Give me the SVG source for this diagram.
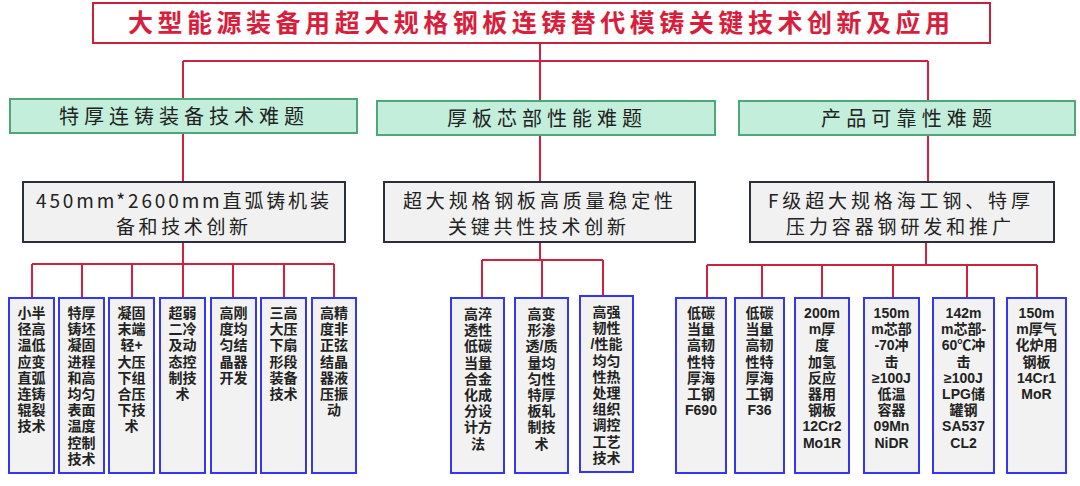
<svg xmlns="http://www.w3.org/2000/svg" width="1080" height="486" viewBox="0 0 1080 486">
<style>
.conn{stroke:#d0213f;stroke-width:2;fill:none}
.title{fill:#fff;stroke:#c8203a;stroke-width:2}
.tt{font-family:"Noto Sans CJK SC","Liberation Sans",sans-serif;font-weight:bold;font-size:25px;fill:#d81e3c}
.green{fill:#c3eedb;stroke:#4fa679;stroke-width:2}
.gt{font-family:"Noto Sans CJK SC","Liberation Sans",sans-serif;font-size:20px;fill:#222}
.gray{fill:#f1f1f1;stroke:#2b2f3a;stroke-width:2}
.yt{font-family:"Noto Sans CJK SC","Liberation Sans",sans-serif;font-size:19px;fill:#222}
.leaf{fill:#f2f2f2;stroke:#3535f5;stroke-width:2}
.lt{font-family:"Liberation Sans","Noto Sans CJK SC",sans-serif;font-weight:bold;font-size:14px;fill:#222;text-anchor:middle}
</style>
<rect width="1080" height="486" fill="#fff"/>
<g id="connectors">
<path class="conn" d="M540 43V61M183 61H928M183 61V99M540 61V101M928 61V101"/>
<path class="conn" d="M183 133V182M540 135V182M928 135V182"/>
<path class="conn" d="M183 242V264M32 264H334M32 264V298M82 264V298M132 264V298M183 264V298M233 264V298M284 264V298M334 264V298"/>
<path class="conn" d="M540 242V260M482 260H603M482 260V298M542 260V298M603 260V296"/>
<path class="conn" d="M926 242V265M707 265H1037M707 265V298M762 265V298M822 265V298M893 265V298M967 265V298M1037 265V298"/>
</g>
<g id="title"><rect class="title" x="93" y="3" width="897" height="40"/><text class="tt" x="128" y="32" textLength="822" lengthAdjust="spacing">大型能源装备用超大规格钢板连铸替代模铸关键技术创新及应用</text></g>
<g id="h1"><rect class="green" x="10" y="99" width="347" height="34"/><text class="gt" x="59" y="124" textLength="245" lengthAdjust="spacing">特厚连铸装备技术难题</text></g>
<g id="h2"><rect class="green" x="377" y="101" width="338" height="34"/><text class="gt" x="447" y="126" textLength="195" lengthAdjust="spacing">厚板芯部性能难题</text></g>
<g id="h3"><rect class="green" x="739" y="101" width="336" height="34"/><text class="gt" x="821" y="126" textLength="171" lengthAdjust="spacing">产品可靠性难题</text></g>
<g id="m1"><rect class="gray" x="23" y="182" width="322" height="60"/><text class="yt" x="36" y="208" textLength="293" lengthAdjust="spacing">450mm*2600mm直弧铸机装</text><text class="yt" x="116" y="234" textLength="132" lengthAdjust="spacing">备和技术创新</text></g>
<g id="m2"><rect class="gray" x="384" y="182" width="311" height="60"/><text class="yt" x="403" y="208" textLength="270" lengthAdjust="spacing">超大规格钢板高质量稳定性</text><text class="yt" x="448" y="234" textLength="178" lengthAdjust="spacing">关键共性技术创新</text></g>
<g id="m3"><rect class="gray" x="750" y="182" width="304" height="60"/><text class="yt" x="768" y="208" textLength="262" lengthAdjust="spacing">F级超大规格海工钢、特厚</text><text class="yt" x="786" y="234" textLength="225" lengthAdjust="spacing">压力容器钢研发和推广</text></g>

<g id="a1"><rect class="leaf" x="9" y="298" width="45" height="175"/><text class="lt" y="318"><tspan x="31.5">小半</tspan><tspan x="31.5" dy="16.2">径高</tspan><tspan x="31.5" dy="16.2">温低</tspan><tspan x="31.5" dy="16.2">应变</tspan><tspan x="31.5" dy="16.2">直弧</tspan><tspan x="31.5" dy="16.2">连铸</tspan><tspan x="31.5" dy="16.2">辊裂</tspan><tspan x="31.5" dy="16.2">技术</tspan></text></g>
<g id="a2"><rect class="leaf" x="59" y="298" width="45" height="175"/><text class="lt" y="318"><tspan x="81.5">特厚</tspan><tspan x="81.5" dy="16.2">铸坯</tspan><tspan x="81.5" dy="16.2">凝固</tspan><tspan x="81.5" dy="16.2">进程</tspan><tspan x="81.5" dy="16.2">和高</tspan><tspan x="81.5" dy="16.2">均匀</tspan><tspan x="81.5" dy="16.2">表面</tspan><tspan x="81.5" dy="16.2">温度</tspan><tspan x="81.5" dy="16.2">控制</tspan><tspan x="81.5" dy="16.2">技术</tspan></text></g>
<g id="a3"><rect class="leaf" x="109" y="298" width="45" height="175"/><text class="lt" y="318"><tspan x="131.5">凝固</tspan><tspan x="131.5" dy="16.2">末端</tspan><tspan x="131.5" dy="16.2">轻+</tspan><tspan x="131.5" dy="16.2">大压</tspan><tspan x="131.5" dy="16.2">下组</tspan><tspan x="131.5" dy="16.2">合压</tspan><tspan x="131.5" dy="16.2">下技</tspan><tspan x="131.5" dy="16.2">术</tspan></text></g>
<g id="a4"><rect class="leaf" x="160" y="298" width="45" height="175"/><text class="lt" y="318"><tspan x="182.5">超弱</tspan><tspan x="182.5" dy="16.2">二冷</tspan><tspan x="182.5" dy="16.2">及动</tspan><tspan x="182.5" dy="16.2">态控</tspan><tspan x="182.5" dy="16.2">制技</tspan><tspan x="182.5" dy="16.2">术</tspan></text></g>
<g id="a5"><rect class="leaf" x="211" y="298" width="45" height="175"/><text class="lt" y="318"><tspan x="233.5">高刚</tspan><tspan x="233.5" dy="16.2">度均</tspan><tspan x="233.5" dy="16.2">匀结</tspan><tspan x="233.5" dy="16.2">晶器</tspan><tspan x="233.5" dy="16.2">开发</tspan></text></g>
<g id="a6"><rect class="leaf" x="261" y="298" width="45" height="175"/><text class="lt" y="318"><tspan x="283.5">三高</tspan><tspan x="283.5" dy="16.2">大压</tspan><tspan x="283.5" dy="16.2">下扇</tspan><tspan x="283.5" dy="16.2">形段</tspan><tspan x="283.5" dy="16.2">装备</tspan><tspan x="283.5" dy="16.2">技术</tspan></text></g>
<g id="a7"><rect class="leaf" x="312" y="298" width="44" height="175"/><text class="lt" y="318"><tspan x="334">高精</tspan><tspan x="334" dy="16.2">度非</tspan><tspan x="334" dy="16.2">正弦</tspan><tspan x="334" dy="16.2">结晶</tspan><tspan x="334" dy="16.2">器液</tspan><tspan x="334" dy="16.2">压振</tspan><tspan x="334" dy="16.2">动</tspan></text></g>

<g id="b1"><rect class="leaf" x="451" y="298" width="53" height="175"/><text class="lt" y="319"><tspan x="478">高淬</tspan><tspan x="478" dy="16.2">透性</tspan><tspan x="478" dy="16.2">低碳</tspan><tspan x="478" dy="16.2">当量</tspan><tspan x="478" dy="16.2">合金</tspan><tspan x="478" dy="16.2">化成</tspan><tspan x="478" dy="16.2">分设</tspan><tspan x="478" dy="16.2">计方</tspan><tspan x="478" dy="16.2">法</tspan></text></g>
<g id="b2"><rect class="leaf" x="515" y="298" width="53" height="175"/><text class="lt" y="319"><tspan x="541.5">高变</tspan><tspan x="541.5" dy="16.2">形渗</tspan><tspan x="541.5" dy="16.2">透/质</tspan><tspan x="541.5" dy="16.2">量均</tspan><tspan x="541.5" dy="16.2">匀性</tspan><tspan x="541.5" dy="16.2">特厚</tspan><tspan x="541.5" dy="16.2">板轧</tspan><tspan x="541.5" dy="16.2">制技</tspan><tspan x="541.5" dy="16.2">术</tspan></text></g>
<g id="b3"><rect class="leaf" x="580" y="296" width="53" height="176"/><text class="lt" y="317"><tspan x="606.5">高强</tspan><tspan x="606.5" dy="16.2">韧性</tspan><tspan x="606.5" dy="16.2">/性能</tspan><tspan x="606.5" dy="16.2">均匀</tspan><tspan x="606.5" dy="16.2">性热</tspan><tspan x="606.5" dy="16.2">处理</tspan><tspan x="606.5" dy="16.2">组织</tspan><tspan x="606.5" dy="16.2">调控</tspan><tspan x="606.5" dy="16.2">工艺</tspan><tspan x="606.5" dy="16.2">技术</tspan></text></g>

<g id="c1"><rect class="leaf" x="676" y="298" width="50" height="175"/><text class="lt" y="318"><tspan x="701">低碳</tspan><tspan x="701" dy="16.2">当量</tspan><tspan x="701" dy="16.2">高韧</tspan><tspan x="701" dy="16.2">性特</tspan><tspan x="701" dy="16.2">厚海</tspan><tspan x="701" dy="16.2">工钢</tspan><tspan x="701" dy="16.2">F690</tspan></text></g>
<g id="c2"><rect class="leaf" x="735" y="298" width="49" height="175"/><text class="lt" y="318"><tspan x="759.5">低碳</tspan><tspan x="759.5" dy="16.2">当量</tspan><tspan x="759.5" dy="16.2">高韧</tspan><tspan x="759.5" dy="16.2">性特</tspan><tspan x="759.5" dy="16.2">厚海</tspan><tspan x="759.5" dy="16.2">工钢</tspan><tspan x="759.5" dy="16.2">F36</tspan></text></g>
<g id="c3"><rect class="leaf" x="795" y="298" width="54" height="175"/><text class="lt" y="318"><tspan x="822">200m</tspan><tspan x="822" dy="16.2">m厚</tspan><tspan x="822" dy="16.2">度</tspan><tspan x="822" dy="16.2">加氢</tspan><tspan x="822" dy="16.2">反应</tspan><tspan x="822" dy="16.2">器用</tspan><tspan x="822" dy="16.2">钢板</tspan><tspan x="822" dy="16.2">12Cr2</tspan><tspan x="822" dy="16.2">Mo1R</tspan></text></g>
<g id="c4"><rect class="leaf" x="864" y="298" width="55" height="175"/><text class="lt" y="318"><tspan x="891.5">150m</tspan><tspan x="891.5" dy="16.2">m芯部</tspan><tspan x="891.5" dy="16.2">-70冲</tspan><tspan x="891.5" dy="16.2">击</tspan><tspan x="891.5" dy="16.2">≥100J</tspan><tspan x="891.5" dy="16.2">低温</tspan><tspan x="891.5" dy="16.2">容器</tspan><tspan x="891.5" dy="16.2">09Mn</tspan><tspan x="891.5" dy="16.2">NiDR</tspan></text></g>
<g id="c5"><rect class="leaf" x="933" y="298" width="61" height="175"/><text class="lt" y="318"><tspan x="963.5">142m</tspan><tspan x="963.5" dy="16.2">m芯部-</tspan><tspan x="963.5" dy="16.2">60℃冲</tspan><tspan x="963.5" dy="16.2">击</tspan><tspan x="963.5" dy="16.2">≥100J</tspan><tspan x="963.5" dy="16.2">LPG储</tspan><tspan x="963.5" dy="16.2">罐钢</tspan><tspan x="963.5" dy="16.2">SA537</tspan><tspan x="963.5" dy="16.2">CL2</tspan></text></g>
<g id="c6"><rect class="leaf" x="1007" y="298" width="59" height="175"/><text class="lt" y="318"><tspan x="1036.5">150m</tspan><tspan x="1036.5" dy="16.2">m厚气</tspan><tspan x="1036.5" dy="16.2">化炉用</tspan><tspan x="1036.5" dy="16.2">钢板</tspan><tspan x="1036.5" dy="16.2">14Cr1</tspan><tspan x="1036.5" dy="16.2">MoR</tspan></text></g>
</svg>
